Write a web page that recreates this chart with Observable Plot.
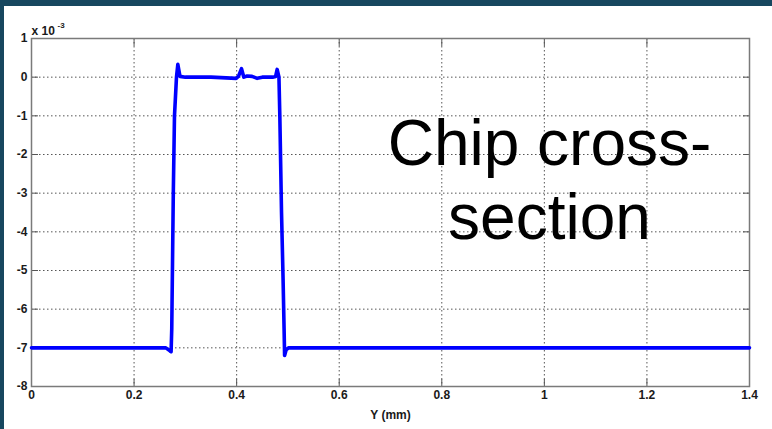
<!DOCTYPE html>
<html>
<head>
<meta charset="utf-8">
<script src="https://cdn.jsdelivr.net/npm/d3@7"></script>
<script src="https://cdn.jsdelivr.net/npm/@observablehq/plot@0.6"></script>
<style>
  html, body { margin: 0; padding: 0; }
  #wrap { position: relative; width: 772px; height: 429px; background: #fff;
          border-left: 4px solid #17475f; border-top: 6px solid #17475f; box-sizing: border-box; overflow: hidden; }
  #chart { position: absolute; left: -4px; top: -6px; }
</style>
</head>
<body>
<div id="wrap"><div id="chart"></div></div>
<script>
// Position along chip, Y (mm)
const posMM = [0, 0.262, 0.270, 0.2722, 0.2735, 0.2765, 0.2788, 0.2827, 0.2853, 0.2895, 0.30, 0.35, 0.399, 0.4035, 0.4095, 0.414, 0.4205, 0.43, 0.44, 0.45, 0.47, 0.476, 0.479, 0.4825, 0.4842, 0.4875, 0.4905, 0.4925, 0.4935, 0.4965, 0.501, 0.55, 1.4];
// Height (x 10^-3)
const heightE3 = [-7, -7, -7.08, -7.1, -6.5, -3, -1, 0, 0.33, 0.02, 0, 0, -0.03, 0.02, 0.22, 0, 0.03, 0.02, -0.03, 0, 0, 0.02, 0.2, 0, -1, -3.5, -5.2, -6.5, -7.2, -7.05, -7, -7, -7];
const xTicks = [0, 0.2, 0.4, 0.6, 0.8, 1, 1.2, 1.4];
const yTicks = [1, 0, -1, -2, -3, -4, -5, -6, -7, -8];
const annotationLines = ["Chip cross-", "section"];
const annotationX = [1.01, 1.01];
const annotationY = [-2.26, -4.18];

const data = posMM.map((x, i) => ({x, y: heightE3[i]}));
const notes = annotationLines.map((t, i) => ({t, x: annotationX[i], y: annotationY[i]}));
const font = "'Liberation Sans', Arial, sans-serif";

const plot = Plot.plot({
  width: 772,
  height: 429,
  marginLeft: 31,
  marginRight: 23,
  marginTop: 38,
  marginBottom: 43,
  style: {background: "transparent", fontFamily: font, fontSize: "12px", fontWeight: "bold", color: "#1a1a1a"},
  x: {domain: [0, 1.4]},
  y: {domain: [-8, 1]},
  marks: [
    Plot.gridX(xTicks.slice(1, -1), {stroke: "#444", strokeOpacity: 0.9, strokeDasharray: "1.5,2.5", strokeWidth: 1}),
    Plot.gridY(yTicks.slice(1, -1), {stroke: "#444", strokeOpacity: 0.9, strokeDasharray: "1.5,2.5", strokeWidth: 1}),
    Plot.axisX({ticks: xTicks, tickSize: 0, tickPadding: 4, tickFormat: d => String(d), fontSize: 12, label: "Y (mm)", labelAnchor: "center", labelArrow: "none", labelOffset: 32}),
    Plot.axisX({ticks: xTicks, anchor: "bottom", tickSize: -7, tickFormat: () => "", label: null, stroke: "#555"}),
    Plot.axisX({ticks: xTicks, anchor: "top", tickSize: -7, tickFormat: () => "", label: null, stroke: "#555"}),
    Plot.axisY({ticks: yTicks, tickSize: 0, tickPadding: 4, tickFormat: d => String(d), fontSize: 12, label: null}),
    Plot.axisY({ticks: yTicks, anchor: "left", tickSize: -7, tickFormat: () => "", label: null, stroke: "#555"}),
    Plot.axisY({ticks: yTicks, anchor: "right", tickSize: -7, tickFormat: () => "", label: null, stroke: "#555"}),
    Plot.frame({stroke: "#7a7a7a", strokeWidth: 1.5}),
    Plot.line(data, {x: "x", y: "y", stroke: "#0000ff", strokeWidth: 3.6, strokeLinejoin: "round", curve: "linear"}),
    Plot.text(notes, {x: "x", y: "y", text: "t", fontSize: 64, fontWeight: "normal", textAnchor: "middle", lineAnchor: "bottom", fill: "#000"}),
    Plot.text(["x 10"], {frameAnchor: "top-left", text: d => d, textAnchor: "start", lineAnchor: "bottom", dy: -4, fontSize: 12, fill: "#1a1a1a"}),
    Plot.text(["-3"], {frameAnchor: "top-left", text: d => d, textAnchor: "start", lineAnchor: "bottom", dx: 26, dy: -11, fontSize: 8, fill: "#1a1a1a"})
  ]
});
document.getElementById("chart").appendChild(plot);
</script>
</body>
</html>
